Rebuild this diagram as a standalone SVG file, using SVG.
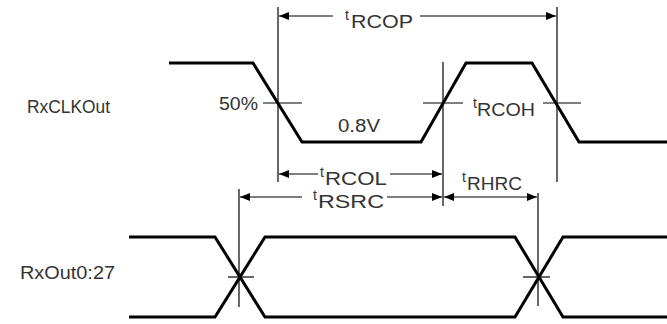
<svg xmlns="http://www.w3.org/2000/svg" width="667" height="324" viewBox="0 0 667 324">
<defs>
<style>
.sig{fill:none;stroke:#000;stroke-width:3;stroke-linejoin:miter}
.dim{fill:none;stroke:#000;stroke-width:1.2}
.lbl{font-family:"Liberation Sans",Arial,sans-serif;font-size:18px;fill:#333}
.t{font-family:"Liberation Sans",Arial,sans-serif;font-size:14px;fill:#333}
.sub{font-family:"Liberation Sans",Arial,sans-serif;font-size:19px;fill:#333}
</style>
<marker id="ah" viewBox="0 0 10 8" refX="10" refY="4" markerWidth="10" markerHeight="8" markerUnits="userSpaceOnUse" orient="auto-start-reverse">
<path d="M0,0 L10,4 L0,8 Z" fill="#000"/>
</marker>
</defs>
<rect width="667" height="324" fill="#fff"/>
<g id="labels">
<text class="lbl" x="27" y="113" textLength="83" lengthAdjust="spacingAndGlyphs">RxCLKOut</text>
<text class="lbl" x="20" y="279" textLength="95" lengthAdjust="spacingAndGlyphs">RxOut0:27</text>
<text class="lbl" x="219" y="110" textLength="39" lengthAdjust="spacingAndGlyphs">50%</text>
<text class="lbl" x="338" y="132" textLength="42" lengthAdjust="spacingAndGlyphs">0.8V</text>
</g>
<g id="rxclkout">
<path class="sig" d="M169,63 H253 L302,142 H421 L466,63 H532 L579,142 H667"/>
</g>
<g id="rxout">
<path class="sig" d="M129,237 H215 L265,317 H515 L563,237 H667"/>
<path class="sig" d="M129,317 H215 L265,237 H515 L563,317 H667"/>
</g>
<g id="connectors">
<line class="dim" x1="278" y1="7" x2="278" y2="182"/>
<line class="dim" x1="443" y1="62" x2="443" y2="206"/>
<line class="dim" x1="557" y1="7" x2="557" y2="182"/>
<line class="dim" x1="239" y1="189" x2="239" y2="307"/>
<line class="dim" x1="538" y1="193" x2="538" y2="306"/>
<line class="dim" x1="263" y1="103" x2="302" y2="103"/>
<line class="dim" x1="423" y1="103" x2="463" y2="103"/>
<line class="dim" x1="543" y1="103" x2="581" y2="103"/>
<line class="dim" x1="228" y1="277" x2="254" y2="277"/>
<line class="dim" x1="523" y1="277" x2="550" y2="277"/>
<line class="dim" x1="333" y1="16" x2="279" y2="16" marker-end="url(#ah)"/>
<line class="dim" x1="420" y1="16" x2="556" y2="16" marker-end="url(#ah)"/>
<line class="dim" x1="318" y1="174" x2="279" y2="174" marker-end="url(#ah)"/>
<line class="dim" x1="390" y1="174" x2="442" y2="174" marker-end="url(#ah)"/>
<line class="dim" x1="302" y1="197" x2="240" y2="197" marker-end="url(#ah)"/>
<line class="dim" x1="387" y1="197" x2="442" y2="197" marker-end="url(#ah)"/>
<line class="dim" x1="444" y1="197" x2="537" y2="197" marker-start="url(#ah)" marker-end="url(#ah)"/>
</g>
<g id="timing-labels">
<text class="t" x="345" y="20">t</text><text class="sub" x="351" y="28" textLength="62" lengthAdjust="spacingAndGlyphs">RCOP</text>
<text class="t" x="320" y="177">t</text><text class="sub" x="325" y="185" textLength="62" lengthAdjust="spacingAndGlyphs">RCOL</text>
<text class="t" x="313" y="200">t</text><text class="sub" x="318" y="208" textLength="66" lengthAdjust="spacingAndGlyphs">RSRC</text>
<text class="t" x="473" y="108">t</text><text class="sub" x="477" y="116" textLength="58" lengthAdjust="spacingAndGlyphs">RCOH</text>
<text class="t" x="462" y="182">t</text><text class="sub" x="467" y="190" textLength="55" lengthAdjust="spacingAndGlyphs">RHRC</text>
</g>
</svg>
